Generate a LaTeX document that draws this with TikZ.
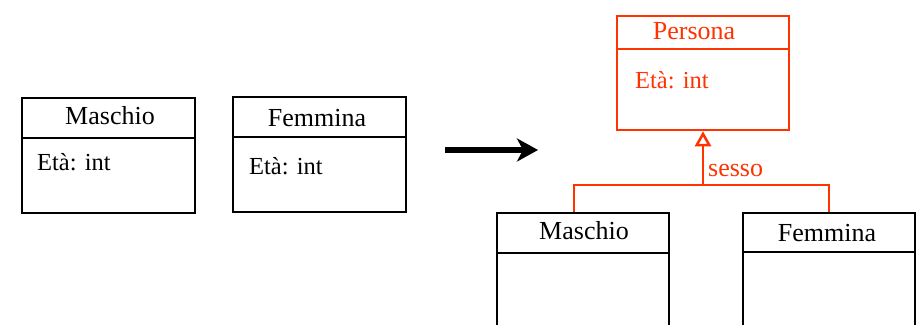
\documentclass[tikz,border=0pt]{standalone}
\usepackage{fontspec}
\setmainfont{Liberation Serif}
\usetikzlibrary{arrows.meta}
\definecolor{umlred}{RGB}{255,51,0}
\begin{document}
\begin{tikzpicture}[x=1pt,y=-1pt,
  box/.style={draw, line width=2.5pt, rectangle, inner sep=0pt},
  divider/.style={line width=2.5pt},
  title/.style={inner sep=0pt, anchor=base, font=\fontsize{26}{30}\selectfont},
  attr/.style={inner sep=0pt, anchor=base west, font=\fontsize{24.5}{29}\selectfont},
  redline/.style={draw=umlred, line width=2.5pt}]
\useasboundingbox (0,0) rectangle (917,324);
% left boxes
\node[box, minimum width=173pt, minimum height=115pt] (m1) at (108.5,155.5) {};
\draw[divider] ([yshift=-41pt]m1.north west) -- ([yshift=-41pt]m1.north east);
\node[title] (m1t) at (110,124.3) {Maschio};
\node[attr] (m1a) at (37,170.7) {Età: int};
\node[box, minimum width=173pt, minimum height=115pt] (f1) at (319.5,154.5) {};
\draw[divider] ([yshift=-41pt]f1.north west) -- ([yshift=-41pt]f1.north east);
\node[title] (f1t) at (317,126.7) {Femmina};
\node[attr] (f1a) at (249,174.3) {Età: int};
% transformation arrow
\coordinate (a1) at (445,150);
\coordinate (a2) at (538,150);
\draw[line width=5.5pt, -{Stealth[length=21pt,width=23pt,inset=6pt]}] (a1) -- (a2);
% Persona
\node[box, draw=umlred, minimum width=172pt, minimum height=114pt] (p) at (703,73) {};
\draw[redline] ([yshift=-34pt]p.north west) -- ([yshift=-34pt]p.north east);
\node[title, text=umlred] (pt) at (694,39.3) {Persona};
\node[attr, text=umlred] (pa) at (635,88.3) {Età: int};
% right boxes
\node[box, minimum width=172pt, minimum height=130pt] (m2) at (583,278) {};
\draw[divider] ([yshift=-41pt]m2.north west) -- ([yshift=-41pt]m2.north east);
\node[title] (m2t) at (584,239.3) {Maschio};
\node[box, minimum width=172pt, minimum height=130pt] (f2) at (829,278) {};
\draw[divider] ([yshift=-40pt]f2.north west) -- ([yshift=-40pt]f2.north east);
\node[title] (f2t) at (827,241.7) {Femmina};
% generalization
\coordinate (j) at (703,185);
\draw[redline] ([xshift=-9pt]m2.north) |- (j) -| (f2.north);
\draw[redline, -{Triangle[open, length=15pt, width=16pt]}] (j) -- (p.south);
\node[title, text=umlred, anchor=base west] (s) at (708,176) {sesso};
\end{tikzpicture}
\end{document}
